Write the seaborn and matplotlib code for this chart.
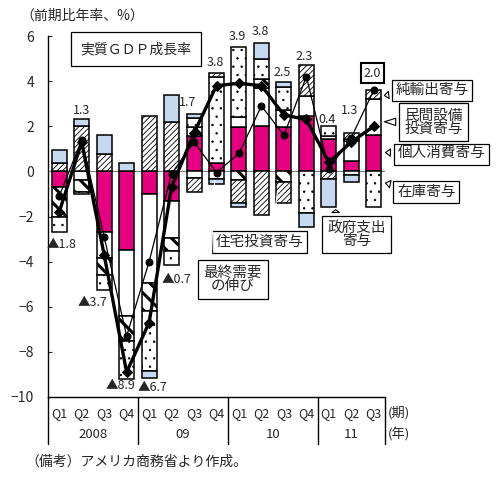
import numpy as np
import matplotlib
matplotlib.use("Agg")
import matplotlib.pyplot as plt
import seaborn as sns

# 四半期・年
quarters = ["Q1", "Q2", "Q3", "Q4", "Q1", "Q2", "Q3", "Q4",
            "Q1", "Q2", "Q3", "Q4", "Q1", "Q2", "Q3"]
years = ["2008", "09", "10", "11"]

# 寄与度 (前期比年率、%)
consumption = [-0.7, 0.0, -2.7, -3.5, -1.0, -1.3, 1.55, 0.35, 1.95, 2.0, 1.95, 2.45, 1.45, 0.45, 1.6]
equipment = [0.0, -0.4, -1.15, -2.9, -3.95, -1.65, -0.3, -0.35, 0.45, 1.7, 0.75, 0.9, 0.1, 0.9, 1.6]
housing = [-1.3, -0.5, -0.75, -1.1, -1.25, -0.6, 0.4, 0.0, -0.4, 0.4, -0.45, 0.0, 0.0, 0.1, 0.0]
inventory = [-0.7, -0.1, -0.65, -1.7, -2.65, -0.6, 0.4, 3.85, 3.1, 0.9, 1.05, -1.85, 0.45, -0.15, -1.6]
net_exports = [0.35, 2.0, 0.75, 0.0, 2.45, 2.2, -0.6, 0.15, -1.0, -1.95, -0.95, 1.35, -0.35, 0.25, 0.4]
government = [0.6, 0.3, 0.85, 0.35, -0.3, 1.2, 0.2, -0.2, -0.2, 0.7, 0.2, -0.6, -1.25, -0.3, 0.0]

gdp = [-1.8, 1.3, -3.7, -8.9, -6.7, -0.7, 1.7, 3.8, 3.9, 3.8, 2.5, 2.3, 0.4, 1.3, 2.0]
final_demand = [-1.1, 1.4, -2.9, -7.3, -4.0, -0.1, 1.3, -0.05, 0.8, 2.9, 1.6, 4.2, 0.1, 1.5, 3.6]
gdp_labels = ["▲1.8", "1.3", "▲3.7", "▲8.9", "▲6.7", "▲0.7", "1.7", "3.8",
              "3.9", "3.8", "2.5", "2.3", "0.4", "1.3", "2.0"]

# label nudges (layout only)
lab_dx = [0.12, 0, -0.5, -0.26, 0.17, 0.23, -0.28, -0.03, -0.06, -0.03, -0.06, -0.08, -0.06, -0.08, -0.06]
lab_dy = [-0.54, 0.41, -0.57, -0.31, -0.41, -0.65, 0.52, 0.49, 0.5, 0.48, 0.45, 0.41, 0.31, 1.01, 0.76]

sns.set_style("white")
plt.rcParams["font.family"] = ["Noto Sans CJK JP", "DejaVu Sans"]
plt.rcParams["hatch.color"] = "black"

fig = plt.figure(figsize=(4.98, 4.79), dpi=100)
ax = fig.add_axes([48 / 498, 1 - 397 / 479, 337 / 498, 361 / 479])

idx = np.arange(len(gdp))
parts = [
    (consumption, dict(color="#e4007f"), 1.0),
    (equipment, dict(color="white"), 1.0),
    (housing, dict(color="white", hatch="\\\\"), 2.2),
    (inventory, dict(color="white", hatch=".."), 0.5),
    (net_exports, dict(color="white", hatch="//////"), 0.6),
    (government, dict(color="#c6d9f1"), 1.0),
]
pos_base = np.zeros(len(idx))
neg_base = np.zeros(len(idx))
for vals, kw, hlw in parts:
    vals = np.asarray(vals, dtype=float)
    bottom = np.where(vals >= 0, pos_base, neg_base)
    plt.rcParams["hatch.linewidth"] = hlw
    n0 = len(ax.patches)
    sns.barplot(x=idx, y=vals, bottom=bottom, width=0.67, saturation=1,
                edgecolor="black", linewidth=1.1, ax=ax, zorder=2, **kw)
    for p, v in zip(ax.patches[n0:], vals):
        if v == 0:
            p.set_visible(False)
        try:
            p.set_hatch_linewidth(hlw)
        except AttributeError:
            pass
    pos_base += np.clip(vals, 0, None)
    neg_base += np.clip(vals, None, 0)

ax.axhline(0, color="gray", lw=0.8, zorder=1)

sns.lineplot(x=idx, y=final_demand, color="black", linewidth=0.9, marker="o",
             markersize=5, markeredgecolor="black", ax=ax, zorder=4)
sns.lineplot(x=idx, y=gdp, color="black", linewidth=2.4, marker="D",
             markersize=5, markeredgecolor="black", ax=ax, zorder=5)

# GDP値ラベル
for i, lab in enumerate(gdp_labels):
    base = pos_base[i] if gdp[i] >= 0 else neg_base[i]
    kw = {}
    if i == len(gdp_labels) - 1:
        kw["bbox"] = dict(boxstyle="square,pad=0.25", fc="white", ec="black", lw=1.5)
    ax.text(i + lab_dx[i], base + lab_dy[i], lab, ha="center", va="center",
            fontsize=9, zorder=6, **kw)

# 注記
box = dict(boxstyle="square,pad=0.25", fc="white", ec="black", lw=0.9)
wedge = dict(arrowstyle="wedge,tail_width=0.5", fc="white", ec="black", lw=0.8)
fs = 10.5
ax.annotate("実質ＧＤＰ成長率", xy=(6.65, 3.0), xytext=(3.41, 5.42), ha="center", va="center",
            fontsize=10, bbox=dict(boxstyle="square,pad=0.7", fc="white", ec="black", lw=0.9),
            arrowprops=dict(arrowstyle="->", lw=0.8, relpos=(0.85, 0)), zorder=6)
ax.annotate("純輸出寄与", xy=(14.35, 3.35), xytext=(16.6, 3.6), ha="center", va="center",
            fontsize=fs, bbox=box, arrowprops=wedge, annotation_clip=False, zorder=6)
ax.annotate("民間設備\n投資寄与", xy=(14.35, 2.2), xytext=(16.65, 2.18), ha="center", va="center",
            fontsize=fs, linespacing=0.95, bbox=dict(boxstyle="square,pad=0.35", fc="white", ec="black", lw=0.9),
            arrowprops=wedge, annotation_clip=False, zorder=6)
ax.annotate("個人消費寄与", xy=(14.4, 0.84), xytext=(17.0, 0.76), ha="center", va="center",
            fontsize=fs, bbox=box, arrowprops=wedge, annotation_clip=False, zorder=6)
ax.annotate("在庫寄与", xy=(14.4, -0.49), xytext=(16.34, -0.91), ha="center", va="center",
            fontsize=fs, bbox=box, arrowprops=wedge, annotation_clip=False, zorder=6)
ax.annotate("政府支出\n寄与", xy=(12.3, -1.7), xytext=(13.23, -2.8), ha="center", va="center",
            fontsize=fs, linespacing=0.95, bbox=dict(boxstyle="square,pad=0.35", fc="white", ec="black", lw=0.9),
            arrowprops=dict(wedge, relpos=(0.15, 1)), annotation_clip=False, zorder=6)
ax.annotate("住宅投資寄与", xy=(9.72, -0.84), xytext=(8.9, -3.13), ha="center", va="center",
            fontsize=fs, bbox=box, arrowprops=dict(arrowstyle="-", lw=0.8, relpos=(0.65, 1)), zorder=6)
ax.annotate("最終需要\nの伸び", xy=(6.92, -0.3), xytext=(7.72, -4.8), ha="center", va="center",
            fontsize=fs, linespacing=0.95, bbox=dict(boxstyle="square,pad=0.4", fc="white", ec="black", lw=0.9),
            arrowprops=dict(arrowstyle="-", lw=0.8, relpos=(0.13, 1)), zorder=6)

# 軸
ax.set_xlim(-0.5, 14.5)
ax.set_ylim(-10, 6)
ax.set_yticks(range(-10, 7, 2))
ax.set_xticks([])
ax.set_xlabel("")
ax.set_ylabel("")
ax.tick_params(axis="y", direction="in", length=3, left=True, labelsize=10, pad=10)
sns.despine(ax=ax, top=True, right=True)
for s in ["left", "bottom"]:
    ax.spines[s].set_color("black")
    ax.spines[s].set_linewidth(1.0)

y_low = -12.1
for xb in [-0.5, 3.5, 7.5, 11.5, 14.5]:
    ax.plot([xb, xb], [-10, y_low], color="black", lw=1.0, clip_on=False)
for i, q in enumerate(quarters):
    ax.text(i, -10.71, q, ha="center", va="center", fontsize=9, clip_on=False)
for x, y in zip([1.5, 5.5, 9.5, 13.0], years):
    ax.text(x, -11.64, y, ha="center", va="center", fontsize=9.5, clip_on=False)
ax.text(14.62, -10.71, "(期)", ha="left", va="center", fontsize=9.5, clip_on=False)
ax.text(14.62, -11.64, "(年)", ha="left", va="center", fontsize=9.5, clip_on=False)

fig.text(20 / 498, 1 - 16 / 479, "（前期比年率、%）", ha="left", va="center", fontsize=10)
fig.text(25 / 498, 1 - 462 / 479, "（備考）アメリカ商務省より作成。", ha="left", va="center", fontsize=10)

fig.savefig("out.png", dpi=100)
